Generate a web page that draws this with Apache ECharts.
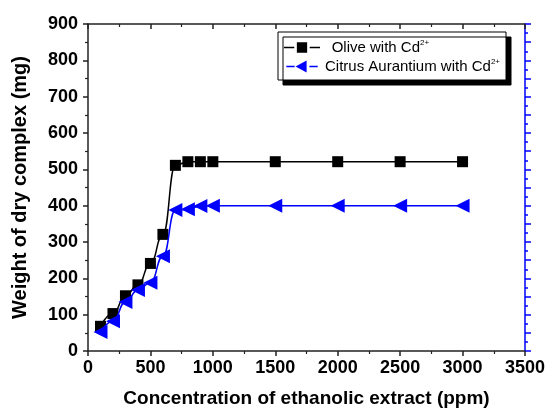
<!DOCTYPE html>
<html>
<head>
<meta charset="utf-8">
<script src="https://cdn.jsdelivr.net/npm/echarts@6/dist/echarts.min.js"></script>
<style>html,body{margin:0;padding:0;background:#fff;}#c{width:548px;height:414px;}</style>
</head>
<body>
<div id="c"></div>
<script>
var concentrations = [100, 200, 300, 400, 500, 600, 700, 800, 900, 1000, 1500, 2000, 2500, 3000];
var oliveValues = [68, 103, 152, 182, 241, 321, 511, 521, 521, 521, 521, 521, 521, 521];
var citrusValues = [52, 82, 135, 168, 188, 261, 388, 390, 399, 400, 400, 400, 400, 400];
var seriesNames = ['Olive with Cd', 'Citrus Aurantium with Cd'];
var xTitle = 'Concentration of ethanolic extract (ppm)';
var yTitle = 'Weight of dry complex (mg)';

function pairs(xs, ys) { return xs.map(function (x, i) { return [x, ys[i]]; }); }

var chart = echarts.init(document.getElementById('c'), null, {renderer: 'canvas'});
var axisCol = '#222';
var font = 'Liberation Sans, Arial, sans-serif';
chart.setOption({
  animation: false,
  backgroundColor: '#fff',
  grid: {left: 88, right: 22, top: 24, bottom: 63},
  legend: {
    orient: 'vertical',
    left: 278, top: 32,
    padding: [7, 6, 6, 6],
    itemGap: 3,
    itemWidth: 36, itemHeight: 12,
    backgroundColor: '#fff',
    borderColor: '#000', borderWidth: 1,
    shadowColor: '#000', shadowBlur: 0, shadowOffsetX: 5, shadowOffsetY: 5,
    data: [
      {name: seriesNames[0], icon: 'path://M0,5.3H10V6.7H0Z M12.5,1H22.5V11H12.5Z M25,5.3H35V6.7H25Z'},
      {name: seriesNames[1], icon: 'path://M0,5.3H9V6.7H0Z M10,6 L22,-0.5 L22,12.5Z M25,5.3H34V6.7H25Z'}
    ],
    formatter: function (n) {
      return (n === seriesNames[0] ? '  ' : '') + '{a|' + n + '}{s|2+}';
    },
    textStyle: {
      fontFamily: font, color: '#000',
      rich: {
        a: {fontSize: 15, fontFamily: font, color: '#000', lineHeight: 17},
        s: {fontSize: 8, fontFamily: font, color: '#000', lineHeight: 17, verticalAlign: 'top', padding: [0, 0, 8, 0]}
      }
    }
  },
  xAxis: [{
    type: 'value', min: 0, max: 3500, interval: 500, position: 'bottom',
    name: xTitle, nameLocation: 'middle', nameGap: 38,
    nameTextStyle: {fontSize: 19, fontWeight: 'bold', fontFamily: font, color: '#000'},
    axisLine: {onZero: false, lineStyle: {color: axisCol, width: 1.5}},
    axisTick: {show: true, inside: false, length: 5, lineStyle: {color: axisCol, width: 1.5}},
    minorTick: {show: true, splitNumber: 2, length: 3, lineStyle: {color: axisCol, width: 1.2}},
    axisLabel: {fontSize: 18, fontWeight: 'bold', fontFamily: font, color: '#000', margin: 8,
      formatter: function (v) { return String(v); }},
    splitLine: {show: false}
  }, {
    type: 'value', min: 0, max: 3500, interval: 500, position: 'top',
    axisLine: {onZero: false, lineStyle: {color: axisCol, width: 1.5}},
    axisTick: {show: true, inside: true, length: 5, lineStyle: {color: axisCol, width: 1.5}},
    minorTick: {show: true, splitNumber: 2, length: 3, lineStyle: {color: axisCol, width: 1.2}},
    axisLabel: {show: false},
    splitLine: {show: false}
  }],
  yAxis: [{
    type: 'value', min: 0, max: 900, interval: 100, position: 'left',
    name: yTitle, nameLocation: 'middle', nameGap: 58, nameRotate: 90,
    nameTextStyle: {fontSize: 20, fontWeight: 'bold', fontFamily: font, color: '#000'},
    axisLine: {show: true, onZero: false, lineStyle: {color: axisCol, width: 1.5}},
    axisTick: {show: true, inside: false, length: 5, lineStyle: {color: axisCol, width: 1.5}},
    minorTick: {show: true, splitNumber: 2, length: 3, lineStyle: {color: axisCol, width: 1.2}},
    axisLabel: {fontSize: 18, fontWeight: 'bold', fontFamily: font, color: '#000', margin: 10},
    splitLine: {show: false}
  }, {
    type: 'value', min: 0, max: 900, interval: 50, position: 'right',
    axisLine: {show: true, onZero: false, lineStyle: {color: '#0000ff', width: 1.5}},
    axisTick: {show: true, inside: false, length: 6, lineStyle: {color: '#0000ff', width: 1.5}},
    minorTick: {show: true, splitNumber: 2, length: 3, lineStyle: {color: '#0000ff', width: 1.5}},
    axisLabel: {show: false},
    splitLine: {show: false}
  }],
  series: [{
    name: seriesNames[0], type: 'line', xAxisIndex: 0, yAxisIndex: 0,
    data: pairs(concentrations, oliveValues),
    smooth: 0.5, smoothMonotone: 'x',
    symbol: 'rect', symbolSize: 11,
    lineStyle: {color: '#000', width: 1.5},
    itemStyle: {color: '#000'},
    z: 3
  }, {
    name: seriesNames[1], type: 'line', xAxisIndex: 0, yAxisIndex: 0,
    data: pairs(concentrations, citrusValues),
    smooth: 0.5, smoothMonotone: 'x',
    symbol: 'triangle', symbolRotate: 90, symbolSize: 14,
    lineStyle: {color: '#0000ff', width: 1.5},
    itemStyle: {color: '#0000ff'},
    z: 4
  }]
});
</script>
</body>
</html>
